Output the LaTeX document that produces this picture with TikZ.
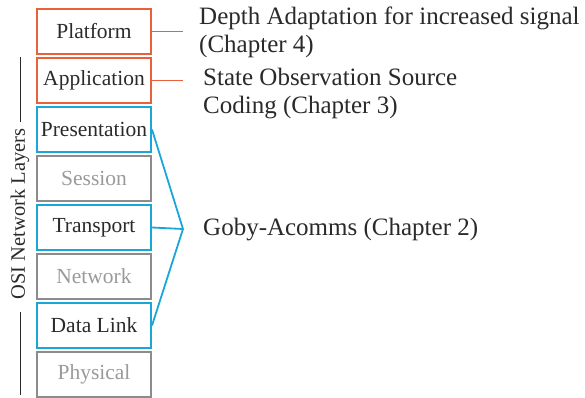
\documentclass[tikz,border=0pt]{standalone}
\usepackage{fontspec}
\setmainfont{Liberation Serif}
\definecolor{orng}{HTML}{E8613A}
\definecolor{blu}{HTML}{1BA6D8}
\definecolor{gry}{HTML}{8C8C8C}
\definecolor{gtxt}{HTML}{9A9A9A}
\definecolor{dtxt}{HTML}{2A2A2A}
\begin{document}
\begin{tikzpicture}[x=1pt,y=-1pt,
  layer/.style={draw,line width=2pt,minimum width=114pt,minimum height=45pt,inner sep=0pt,font=\fontsize{21.5}{24}\selectfont},
  orbox/.style={layer,draw=orng,text=dtxt},
  blbox/.style={layer,draw=blu,text=dtxt},
  grbox/.style={layer,draw=gry,text=gtxt},
  note/.style={anchor=west,align=left,text=dtxt,inner sep=0pt,font=\fontsize{25}{28}\selectfont},
  orline/.style={draw=orng,line width=1.8pt},
  blline/.style={draw=blu,line width=1.8pt},
  bar/.style={draw=dtxt,line width=1.6pt}]
\useasboundingbox (0,0) rectangle (585,398);
\node[orbox] (plat) at (94,31.5) {Platform};
\node[orbox] (app) at (94,80.5) {Application};
\node[blbox] (pres) at (94,129.5) {Presentation};
\node[grbox] (sess) at (94,178.5) {Session};
\node[blbox] (trans) at (94,227.5) {Transport};
\node[grbox] (net) at (94,276.5) {Network};
\node[blbox] (dl) at (94,325.5) {Data Link};
\node[grbox] (phys) at (94,374.5) {Physical};
\coordinate (po) at (183,31.5);
\coordinate (ao) at (183,80.5);
\coordinate (apex) at (183,229);
\draw[orline] (plat.east) -- (po);
\draw[orline] (app.east) -- (ao);
\draw[blline] (pres.east) -- (apex) -- (dl.east);
\draw[blline] (trans.east) -- (apex);
\node[note] (depth) at (199,32) {Depth Adaptation for increased signal\\(Chapter 4)};
\node[note] (state) at (203,93.5) {State Observation Source\\Coding (Chapter 3)};
\node[note] (goby) at (203,230) {Goby-Acomms (Chapter 2)};
\node[rotate=90,text=dtxt,inner sep=0pt,font=\fontsize{20.5}{22}\selectfont] (osi) at (20,214) {OSI Network Layers};
\coordinate (b1) at (20.5,57);
\coordinate (b2) at (20.5,122);
\coordinate (b3) at (20.5,312);
\coordinate (b4) at (20.5,395);
\draw[bar] (b1) -- (b2);
\draw[bar] (b3) -- (b4);
\end{tikzpicture}
\end{document}
